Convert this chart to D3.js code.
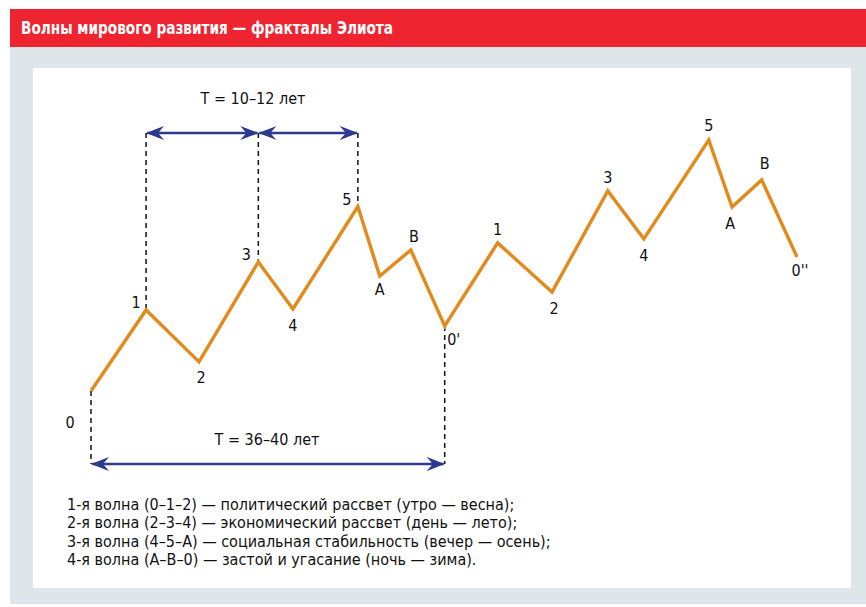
<!DOCTYPE html>
<html lang="ru">
<head>
<meta charset="UTF-8">
<script src="https://d3js.org/d3.v7.min.js"></script>
<style>
body{ margin:0; background:#fff; }
svg text{ font-family: "DejaVu Sans Condensed", "Liberation Sans Narrow", "Roboto", sans-serif; }
</style>
</head>
<body>
<svg width="866" height="607"></svg>
<script>
// wave points: time (0..100) and level (0..100)
const waveNames = ["0","1","2","3","4","5","A","B","0'","1","2","3","4","5","A","B","0''"]
const waveTime  = [0, 7.8, 15.3, 23.7, 28.6, 37.8, 40.9, 45.3, 50.1, 57.6, 65.3, 73.2, 78.3, 87.5, 90.8, 95.0, 100]
const waveLevel = [0, 32.3, 11.6, 51.4, 32.7, 73.5, 45.8, 56.2, 25.9, 59.0, 39.4, 79.7, 60.6, 100, 73.3, 84.1, 53.4]

// periods (index of start / end point)
const periodFrom  = [1, 3, 0]
const periodTo    = [3, 5, 8]
const periodLabel = ["T = 10–12 лет", "", "T = 36–40 лет"]

const legendLines = [
  "1-я волна (0–1–2) — политический рассвет (утро — весна);",
  "2-я волна (2–3–4) — экономический рассвет (день — лето);",
  "3-я волна (4–5–А) — социальная стабильность (вечер — осень);",
  "4-я волна (А–В–0) — застой и угасание (ночь — зима)."
]

const title = "Волны мирового развития — фракталы Элиота"

// label offsets from the point (layout only)
const labelDx = [-21, -10, 2, -12, 0, -11, 0, 3, 9, 0, 2, 0, 0, 0, -2, 3, 3]
const labelDy = [37, -2, 21, -2, 22, -2, 19, -8, 19, -8, 22, -8, 22, -9, 22, -11, 19]

const svg = d3.select("svg")

// backgrounds
svg.append("rect").attr("x", 10).attr("y", 47).attr("width", 856).attr("height", 557).attr("fill", "#dfe6e9")
svg.append("rect").attr("x", 10).attr("y", 9).attr("width", 856).attr("height", 38).attr("fill", "#ee2430")
svg.append("text").attr("x", 21).attr("y", 34)
  .attr("textLength", 372).attr("lengthAdjust", "spacingAndGlyphs")
  .style("font-size", "17px").style("font-weight", "bold").attr("fill", "#fff")
  .text(title)
svg.append("rect").attr("x", 33).attr("y", 68).attr("width", 818).attr("height", 520).attr("fill", "#fff")

const x = d3.scaleLinear().domain([0, 100]).range([91, 797])
const y = d3.scaleLinear().domain([0, 100]).range([391, 140])

const pts = waveTime.map((t, i) => ({name: waveNames[i], t: t, v: waveLevel[i], i: i}))

const topY = 133, botY = 464
const blue = "#2b3a8f"

const defs = svg.append("defs")
defs.append("marker").attr("id", "head").attr("viewBox", "0 0 18 14")
  .attr("refX", 17).attr("refY", 7).attr("markerWidth", 18).attr("markerHeight", 14)
  .attr("markerUnits", "userSpaceOnUse").attr("orient", "auto-start-reverse")
  .append("path").attr("d", "M0,0 L18,7 L0,14 L6,7 Z").attr("fill", blue)

// dashed guides
const g = svg.append("g")
const guideTop = [1, 3, 5]
g.selectAll(".gt").data(guideTop).join("line")
  .attr("x1", d => x(waveTime[d])).attr("x2", d => x(waveTime[d]))
  .attr("y1", topY).attr("y2", d => y(waveLevel[d]))
  .attr("stroke", "#111").attr("stroke-width", 1.5).attr("stroke-dasharray", "5,4")
const guideBot = [0, 8]
g.selectAll(".gb").data(guideBot).join("line")
  .attr("x1", d => x(waveTime[d])).attr("x2", d => x(waveTime[d]))
  .attr("y1", d => y(waveLevel[d])).attr("y2", botY)
  .attr("stroke", "#111").attr("stroke-width", 1.5).attr("stroke-dasharray", "5,4")

// period arrows
periodFrom.forEach((f, k) => {
  const yy = k < 2 ? topY : botY
  g.append("line")
    .attr("x1", x(waveTime[f]) + 1).attr("x2", x(waveTime[periodTo[k]]) - 1)
    .attr("y1", yy).attr("y2", yy)
    .attr("stroke", blue).attr("stroke-width", 2.6)
    .attr("marker-start", "url(#head)").attr("marker-end", "url(#head)")
})
g.append("text").attr("x", 253).attr("y", 104).attr("text-anchor", "middle")
  .style("font-size", "16px").attr("fill", "#111").text(periodLabel[0])
g.append("text").attr("x", 267).attr("y", 445).attr("text-anchor", "middle")
  .style("font-size", "16px").attr("fill", "#111").text(periodLabel[2])

// wave line
const line = d3.line().x(d => x(d.t)).y(d => y(d.v))
g.append("path").datum(pts).attr("d", line)
  .attr("fill", "none").attr("stroke", "#e38a1c").attr("stroke-width", 3.4)
  .attr("stroke-linejoin", "miter")

g.selectAll(".lbl").data(pts).join("text")
  .attr("x", d => x(d.t) + labelDx[d.i]).attr("y", d => y(d.v) + labelDy[d.i])
  .attr("text-anchor", "middle")
  .style("font-size", "16px").attr("fill", "#111")
  .text(d => d.name)

// legend
svg.append("g").selectAll("text").data(legendLines).join("text")
  .attr("x", 67).attr("y", (d, i) => 510 + i * 18.3)
  .style("font-size", "16px").attr("fill", "#111")
  .text(d => d)
</script>
</body>
</html>
